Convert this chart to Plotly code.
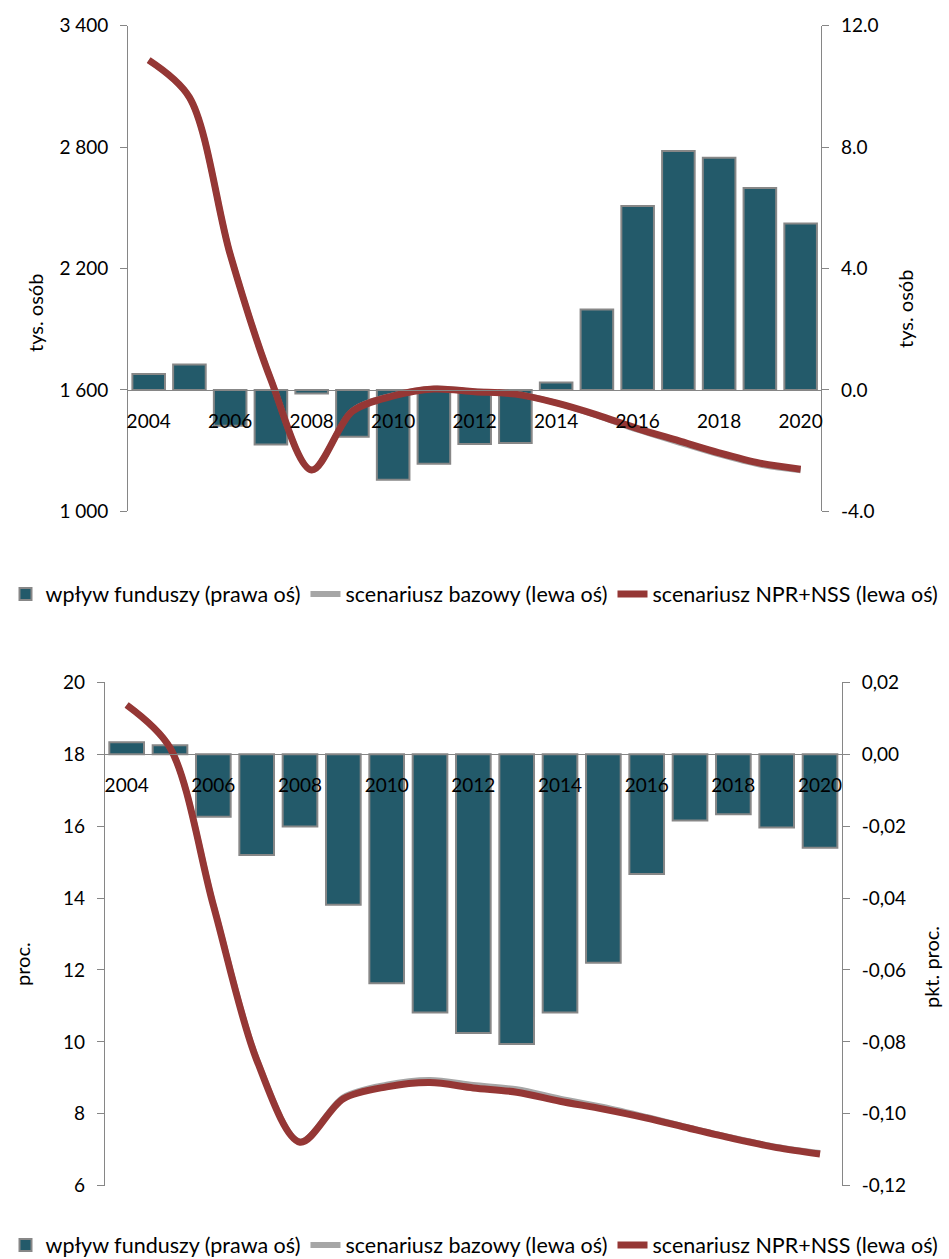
import plotly.graph_objects as go

# ---------------- data ----------------
years = list(range(2004, 2021))
year_ticks = list(range(2004, 2021, 2))
year_labels = [str(y) for y in year_ticks]
year_bounds = [y + 0.5 for y in range(2004, 2020)]

# upper panel: unemployed persons (thousands)
impact_persons = [0.52, 0.84, -1.18, -1.80, -0.12, -1.54, -2.96, -2.43, -1.78,
                  -1.75, 0.24, 2.65, 6.06, 7.87, 7.65, 6.65, 5.48]
base_persons = [3229, 3045, 2271, 1652, 1204, 1496, 1573, 1606, 1593,
                1581, 1536, 1474, 1403, 1341, 1281, 1231, 1203]
npr_persons = [3230, 3046, 2270, 1650, 1204, 1494, 1570, 1604, 1591,
               1579, 1536, 1477, 1409, 1349, 1289, 1238, 1208]

persons_left_vals = [1000, 1600, 2200, 2800, 3400]
persons_left_text = ["1 000", "1 600", "2 200", "2 800", "3 400"]
persons_right_vals = [-4, 0, 4, 8, 12]
persons_right_text = ["-4.0", "0.0", "4.0", "8.0", "12.0"]

# lower panel: unemployment rate (%)
impact_rate = [0.0033, 0.0025, -0.0174, -0.0280, -0.0201, -0.0419, -0.0637, -0.0718,
               -0.0775, -0.0806, -0.0718, -0.0580, -0.0333, -0.0184, -0.0167, -0.0204, -0.0260]
base_rate = [19.37, 18.18, 13.82, 9.53, 7.23, 8.46, 8.81, 8.94, 8.80,
             8.68, 8.42, 8.19, 7.91, 7.61, 7.33, 7.08, 6.91]
npr_rate = [19.37, 18.18, 13.80, 9.50, 7.21, 8.42, 8.75, 8.87, 8.72,
            8.60, 8.35, 8.13, 7.88, 7.59, 7.31, 7.06, 6.88]

rate_left_vals = [6, 8, 10, 12, 14, 16, 18, 20]
rate_left_text = ["6", "8", "10", "12", "14", "16", "18", "20"]
rate_right_vals = [-0.12, -0.10, -0.08, -0.06, -0.04, -0.02, 0.00, 0.02]
rate_right_text = ["-0,12", "-0,10", "-0,08", "-0,06", "-0,04", "-0,02", "0,00", "0,02"]

series_names = ["wpływ funduszy (prawa oś)", "scenariusz bazowy (lewa oś)",
                "scenariusz NPR+NSS (lewa oś)"]

# ---------------- style ----------------
W, H = 949, 1259
FONT = "Lato"
TEAL = "#235A6A"
EDGE = "#878787"
GREY = "#A6A6A6"
RED = "#953735"
AXIS = "#868686"
TXT = "#000000"

# plot boxes in pixels (left, right, top, bottom)
top_box = (128.3, 821.0, 25.7, 511.3)
bot_box = (105.0, 841.7, 682.3, 1185.7)


def xdom(box):
    return [box[0] / W, box[1] / W]


def ydom(box):
    return [1 - box[3] / H, 1 - box[2] / H]


def zero_pos(box, rng):
    y0, y1 = ydom(box)
    return y0 + (y1 - y0) * (0 - rng[0]) / (rng[1] - rng[0])


persons_right_rng = [-4, 12]
persons_left_rng = [1000, 3400]
rate_right_rng = [-0.12, 0.02]
rate_left_rng = [6, 20]

fig = go.Figure()

# upper panel traces
fig.add_trace(go.Bar(x=years, y=impact_persons, xaxis="x", yaxis="y",
                     marker=dict(color=TEAL, line=dict(color=EDGE, width=2)),
                     name=series_names[0], legend="legend"))
fig.add_trace(go.Scatter(x=years, y=base_persons, xaxis="x", yaxis="y2", mode="lines",
                         line=dict(color=GREY, width=6, shape="spline", smoothing=0.9),
                         name=series_names[1], legend="legend"))
fig.add_trace(go.Scatter(x=years, y=npr_persons, xaxis="x", yaxis="y2", mode="lines",
                         line=dict(color=RED, width=7, shape="spline", smoothing=0.9),
                         name=series_names[2], legend="legend"))

# lower panel traces
fig.add_trace(go.Bar(x=years, y=impact_rate, xaxis="x2", yaxis="y3",
                     marker=dict(color=TEAL, line=dict(color=EDGE, width=2)),
                     name=series_names[0], legend="legend2"))
fig.add_trace(go.Scatter(x=years, y=base_rate, xaxis="x2", yaxis="y4", mode="lines",
                         line=dict(color=GREY, width=6, shape="spline", smoothing=0.9),
                         name=series_names[1], legend="legend2"))
fig.add_trace(go.Scatter(x=years, y=npr_rate, xaxis="x2", yaxis="y4", mode="lines",
                         line=dict(color=RED, width=7, shape="spline", smoothing=0.9),
                         name=series_names[2], legend="legend2"))

tick_font = dict(family=FONT, size=19, color=TXT)
z_top = zero_pos(top_box, persons_right_rng)
z_bot = zero_pos(bot_box, rate_right_rng)
half_tick = 6 / H


def cat_axis(box, pos):
    return dict(domain=xdom(box), range=[2003.5, 2020.5], anchor="free", position=pos,
                tickmode="array", tickvals=year_ticks, ticktext=year_labels,
                ticks="", showline=True, linecolor=AXIS, linewidth=1.3,
                showgrid=False, zeroline=False, tickfont=tick_font,
                ticklabelstandoff=14, fixedrange=True)


def bound_axis(over, box, pos):
    return dict(overlaying=over, domain=xdom(box), range=[2003.5, 2020.5], anchor="free",
                position=pos + half_tick, tickmode="array", tickvals=year_bounds,
                ticks="outside", ticklen=12, tickcolor=AXIS, tickwidth=1.3,
                showticklabels=False, showline=False, showgrid=False, zeroline=False)


def val_axis(box, rng, vals, text, side, over=None, anchor="x"):
    d = dict(domain=ydom(box), range=rng, tickmode="array", tickvals=vals, ticktext=text,
             side=side, anchor=anchor, ticks="outside", ticklen=7, tickcolor=AXIS,
             tickwidth=1.3, showline=True, linecolor=AXIS, linewidth=1.3,
             showgrid=False, zeroline=False, tickfont=tick_font,
             ticklabelstandoff=8, fixedrange=True)
    if over:
        d["overlaying"] = over
    return d


def inner_ticks(over, box, rng, vals, side, anchor):
    return dict(overlaying=over, domain=ydom(box), range=rng, tickmode="array",
                tickvals=vals, side=side, anchor=anchor, ticks="inside", ticklen=7,
                tickcolor=AXIS, tickwidth=1.3, showticklabels=False, showline=False,
                showgrid=False, zeroline=False)


legend_font = dict(family=FONT, size=21.5, color=TXT)

fig.update_layout(
    width=W, height=H, autosize=False,
    margin=dict(l=0, r=0, t=0, b=0, autoexpand=False),
    paper_bgcolor="white", plot_bgcolor="rgba(0,0,0,0)",
    font=dict(family=FONT, color=TXT),
    bargap=0.2,
    xaxis=cat_axis(top_box, z_top),
    xaxis3=bound_axis("x", top_box, z_top),
    yaxis=val_axis(top_box, persons_right_rng, persons_right_vals, persons_right_text, "right"),
    yaxis2=val_axis(top_box, persons_left_rng, persons_left_vals, persons_left_text, "left", over="y"),
    yaxis5=inner_ticks("y", top_box, persons_right_rng, persons_right_vals, "left", "x"),
    yaxis6=inner_ticks("y", top_box, persons_right_rng, persons_right_vals, "right", "x"),
    xaxis2=cat_axis(bot_box, z_bot),
    xaxis4=bound_axis("x2", bot_box, z_bot),
    yaxis3=val_axis(bot_box, rate_right_rng, rate_right_vals, rate_right_text, "right", anchor="x2"),
    yaxis4=val_axis(bot_box, rate_left_rng, rate_left_vals, rate_left_text, "left", over="y3", anchor="x2"),
    yaxis7=inner_ticks("y3", bot_box, rate_right_rng, rate_right_vals, "left", "x2"),
    yaxis8=inner_ticks("y3", bot_box, rate_right_rng, rate_right_vals, "right", "x2"),
    legend=dict(orientation="h", x=0.5, xanchor="center", y=1 - 594 / H, yanchor="middle",
                font=legend_font, itemwidth=30,
                bgcolor="rgba(0,0,0,0)", traceorder="normal"),
    legend2=dict(orientation="h", x=0.5, xanchor="center", y=1 - 1245 / H, yanchor="middle",
                 font=legend_font, itemwidth=30,
                 bgcolor="rgba(0,0,0,0)", traceorder="normal"),
)

title_font = dict(family=FONT, size=20, color=TXT)
axis_titles = [
    ("tys. osób", 35, 313),
    ("tys. osób", 905, 309),
    ("proc.", 22, 964),
    ("pkt. proc.", 931, 967),
]
for text, px, py in axis_titles:
    fig.add_annotation(text=text, x=px / W, y=1 - py / H, xref="paper", yref="paper",
                       showarrow=False, textangle=-90, font=title_font,
                       xanchor="center", yanchor="middle")

fig.write_html("out.html")
